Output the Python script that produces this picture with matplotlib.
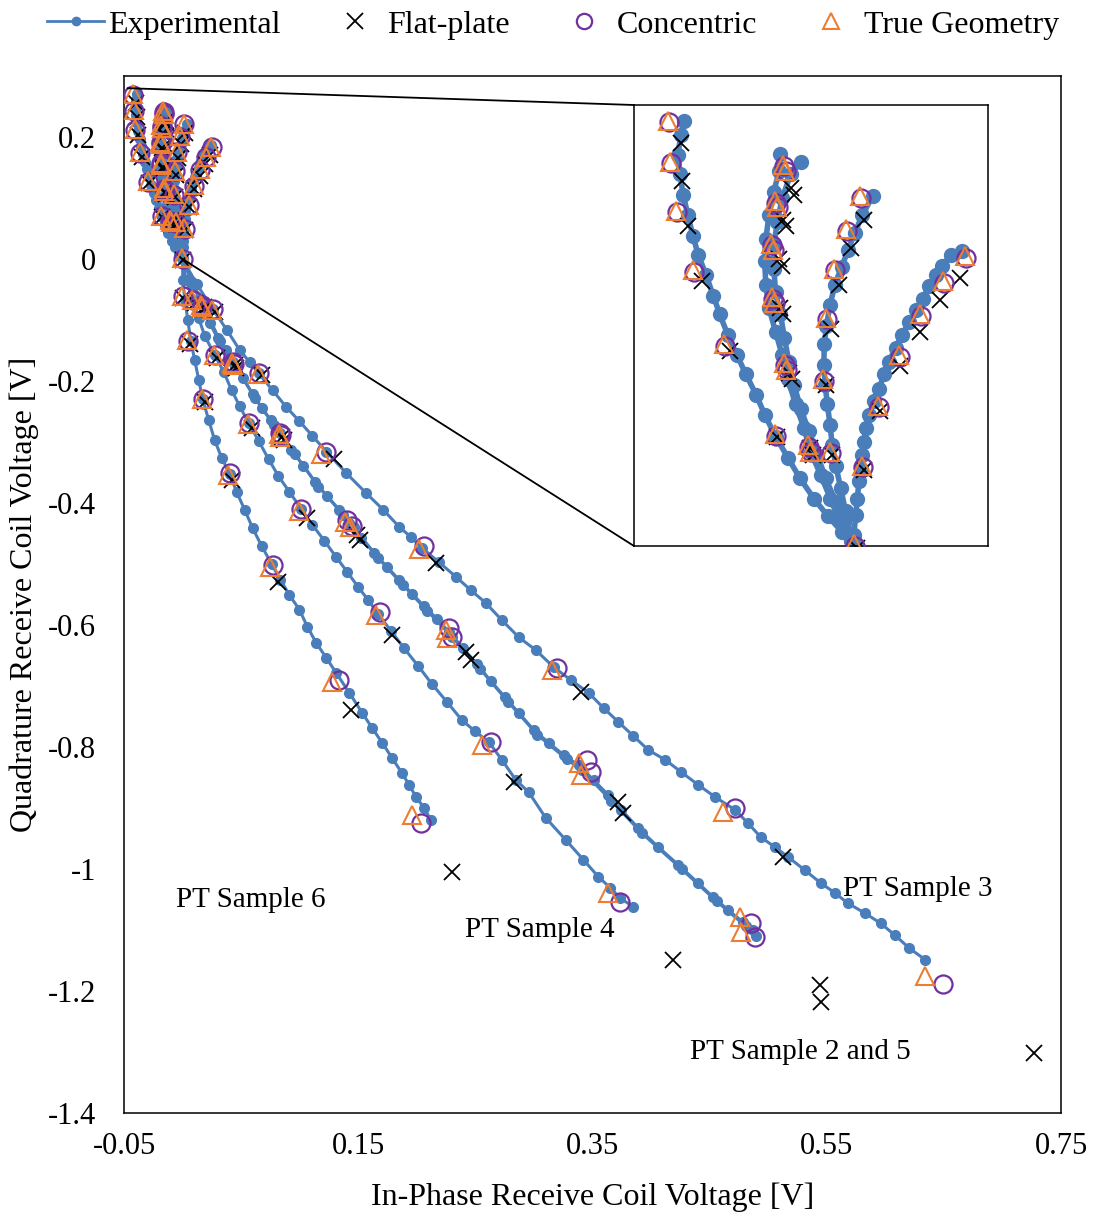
import numpy as np
import matplotlib

matplotlib.use("Agg")
import matplotlib.pyplot as plt
from matplotlib.patches import ConnectionPatch

plt.rcParams["font.family"] = ["Liberation Serif", "DejaVu Serif"]

BLUE = "#4A7EBB"
PURPLE = "#7030A0"
ORANGE = "#ED7D31"

# experimental traces, top of the upper branch -> origin -> end of the lower branch
s6_exp = [
    (-0.0387, 0.270), (-0.0394, 0.261), (-0.0401, 0.248), (-0.0396, 0.236), (-0.0389, 0.223),
    (-0.0378, 0.210), (-0.0367, 0.197), (-0.0355, 0.185), (-0.0337, 0.172), (-0.0321, 0.159),
    (-0.0306, 0.147), (-0.0288, 0.134), (-0.0267, 0.121), (-0.0247, 0.109), (-0.0224, 0.096),
    (-0.0204, 0.083), (-0.0179, 0.069), (-0.0152, 0.056), (-0.0125, 0.043), (-0.0093, 0.030),
    (-0.0062, 0.019), (-0.0030, 0.009), (0.0, 0.0),
    (0.0002, -0.034), (0.0019, -0.067), (0.0045, -0.100), (0.0070, -0.134), (0.0104, -0.166),
    (0.0138, -0.198), (0.0172, -0.230), (0.0223, -0.264), (0.0274, -0.297), (0.0334, -0.326),
    (0.0402, -0.352), (0.0462, -0.382), (0.0530, -0.411), (0.0598, -0.441), (0.0674, -0.470),
    (0.0760, -0.500), (0.0836, -0.526), (0.0913, -0.551), (0.0998, -0.575), (0.1066, -0.603),
    (0.1143, -0.630), (0.1228, -0.654), (0.1313, -0.679), (0.1423, -0.711), (0.1534, -0.744),
    (0.1619, -0.769), (0.1704, -0.793), (0.1789, -0.818), (0.1874, -0.843), (0.1934, -0.862),
    (0.1994, -0.882), (0.2062, -0.900), (0.2121, -0.920),
]

s4_exp = [
    (0.0039, 0.222), (0.0016, 0.210), (-0.0001, 0.199), (-0.0016, 0.188), (-0.0031, 0.177),
    (-0.0046, 0.166), (-0.0057, 0.153), (-0.0065, 0.140), (-0.0070, 0.128), (-0.0071, 0.115),
    (-0.0068, 0.102), (-0.0063, 0.090), (-0.0057, 0.077), (-0.0052, 0.064), (-0.0044, 0.051),
    (-0.0033, 0.037), (-0.0022, 0.022), (-0.0010, 0.007), (0.0, 0.0),
    (0.0028, -0.034), (0.0087, -0.067), (0.0138, -0.097), (0.0189, -0.126), (0.0274, -0.157),
    (0.0351, -0.185), (0.0419, -0.215), (0.0487, -0.241), (0.0564, -0.269), (0.0649, -0.298),
    (0.0734, -0.328), (0.0819, -0.356), (0.0913, -0.382), (0.1015, -0.410), (0.1109, -0.436),
    (0.1211, -0.462), (0.1313, -0.489), (0.1406, -0.513), (0.1500, -0.538), (0.1585, -0.559),
    (0.1670, -0.582), (0.1781, -0.610), (0.1891, -0.638), (0.2011, -0.667), (0.2130, -0.697),
    (0.2257, -0.726), (0.2385, -0.756), (0.2496, -0.774), (0.2615, -0.792), (0.2726, -0.821),
    (0.2845, -0.854), (0.2955, -0.874), (0.3100, -0.916), (0.3270, -0.952), (0.3423, -0.985),
    (0.3551, -1.013), (0.3653, -1.031), (0.3738, -1.048), (0.3849, -1.062),
]

s2_exp = [
    (-0.0169, 0.249), (-0.0172, 0.238), (-0.0184, 0.225), (-0.0195, 0.210), (-0.0202, 0.195),
    (-0.0205, 0.181), (-0.0202, 0.166), (-0.0195, 0.151), (-0.0180, 0.136), (-0.0165, 0.121),
    (-0.0152, 0.106), (-0.0135, 0.090), (-0.0116, 0.075), (-0.0101, 0.060), (-0.0078, 0.045),
    (-0.0056, 0.030), (-0.0033, 0.015), (-0.0010, 0.003), (0.0, 0.0),
    (0.0079, -0.038), (0.0164, -0.075), (0.0232, -0.105), (0.0300, -0.130), (0.0368, -0.149),
    (0.0428, -0.169), (0.0513, -0.195), (0.0598, -0.221), (0.0674, -0.244), (0.0751, -0.264),
    (0.0828, -0.285), (0.0930, -0.313), (0.1032, -0.339), (0.1134, -0.366), (0.1236, -0.389),
    (0.1338, -0.411), (0.1423, -0.433), (0.1526, -0.457), (0.1636, -0.482), (0.1747, -0.505),
    (0.1849, -0.526), (0.1960, -0.549), (0.2062, -0.569), (0.2172, -0.590), (0.2274, -0.611),
    (0.2394, -0.638), (0.2513, -0.664), (0.2632, -0.692), (0.2751, -0.718), (0.2870, -0.744),
    (0.2998, -0.772), (0.3126, -0.793), (0.3253, -0.813), (0.3381, -0.830), (0.3509, -0.854),
    (0.3636, -0.879), (0.3747, -0.903), (0.3891, -0.933), (0.4062, -0.964), (0.4232, -0.993),
    (0.4402, -1.023), (0.4530, -1.046), (0.4657, -1.067), (0.4785, -1.087), (0.4870, -1.100),
]

s5_exp = [
    (-0.0123, 0.244), (-0.0146, 0.236), (-0.0165, 0.221), (-0.0176, 0.206), (-0.0184, 0.191),
    (-0.0184, 0.176), (-0.0180, 0.161), (-0.0169, 0.147), (-0.0160, 0.132), (-0.0150, 0.117),
    (-0.0138, 0.102), (-0.0123, 0.087), (-0.0105, 0.073), (-0.0086, 0.058), (-0.0067, 0.043),
    (-0.0044, 0.028), (-0.0025, 0.015), (-0.0007, 0.003), (0.0, 0.0),
    (0.0095, -0.042), (0.0190, -0.080), (0.0320, -0.135), (0.0450, -0.175), (0.0620, -0.228),
    (0.0780, -0.272), (0.0960, -0.320), (0.1160, -0.373), (0.1370, -0.419), (0.1460, -0.440),
    (0.1670, -0.490), (0.1880, -0.534), (0.2090, -0.577), (0.2300, -0.619), (0.2540, -0.672),
    (0.2780, -0.726), (0.3030, -0.780), (0.3280, -0.820), (0.3410, -0.838), (0.3660, -0.888),
    (0.3920, -0.941), (0.4260, -1.000), (0.4560, -1.053), (0.4810, -1.094), (0.4900, -1.110),
]

s3_exp = [
    (0.0242, 0.187), (0.0216, 0.185), (0.0197, 0.178), (0.0182, 0.172), (0.0167, 0.165),
    (0.0152, 0.157), (0.0137, 0.150), (0.0121, 0.142), (0.0106, 0.134), (0.0091, 0.126),
    (0.0076, 0.117), (0.0065, 0.109), (0.0054, 0.100), (0.0042, 0.092), (0.0031, 0.083),
    (0.0024, 0.075), (0.0020, 0.066), (0.0016, 0.058), (0.0012, 0.049), (0.0008, 0.041),
    (0.0005, 0.030), (0.0001, 0.020), (-0.0003, 0.007), (0.0, 0.0),
    (0.0121, -0.041), (0.0257, -0.082), (0.0377, -0.116), (0.0487, -0.149), (0.0572, -0.169),
    (0.0649, -0.187), (0.0768, -0.215), (0.0887, -0.243), (0.0998, -0.266), (0.1109, -0.290),
    (0.1228, -0.316), (0.1398, -0.351), (0.1568, -0.384), (0.1713, -0.411), (0.1849, -0.439),
    (0.1951, -0.456), (0.2045, -0.474), (0.2189, -0.497), (0.2334, -0.521), (0.2462, -0.543),
    (0.2589, -0.564), (0.2726, -0.592), (0.2870, -0.620), (0.3015, -0.641), (0.3168, -0.669),
    (0.3313, -0.690), (0.3466, -0.711), (0.3594, -0.736), (0.3721, -0.759), (0.3849, -0.782),
    (0.3977, -0.805), (0.4121, -0.821), (0.4257, -0.841), (0.4402, -0.862), (0.4547, -0.882),
    (0.4717, -0.903), (0.4828, -0.925), (0.4938, -0.948), (0.5057, -0.964), (0.5168, -0.980),
    (0.5313, -1.002), (0.5449, -1.023), (0.5568, -1.039), (0.5679, -1.056), (0.5823, -1.072),
    (0.5960, -1.089), (0.6079, -1.108), (0.6206, -1.130), (0.6343, -1.149),
]

# model predictions at the discrete frequencies (samples 6, 4, 2, 5, 3)
concentric = [
    (-0.0421, 0.269), (-0.0416, 0.243), (-0.0403, 0.212), (-0.0364, 0.174), (-0.0294, 0.127), (-0.0179, 0.070),
    (0.0, 0.0),
    (0.0000, -0.061), (0.0045, -0.134), (0.0172, -0.230), (0.0402, -0.351), (0.0768, -0.502), (0.1338, -0.690), (0.2036, -0.925),
    (0.0013, 0.221), (-0.0019, 0.200), (-0.0046, 0.175), (-0.0064, 0.144), (-0.0071, 0.105), (-0.0055, 0.059),
    (0.0087, -0.067), (0.0274, -0.157), (0.0564, -0.269), (0.1015, -0.410), (0.1687, -0.579), (0.2632, -0.792), (0.3738, -1.054),
    (-0.0161, 0.241), (-0.0179, 0.218), (-0.0188, 0.191), (-0.0186, 0.157), (-0.0159, 0.115), (-0.0105, 0.063),
    (0.0164, -0.075), (0.0428, -0.169), (0.0828, -0.285), (0.1406, -0.428), (0.2274, -0.605), (0.3449, -0.821), (0.4853, -1.089),
    (-0.0156, 0.238), (-0.0174, 0.215), (-0.0183, 0.188), (-0.0181, 0.154), (-0.0154, 0.112), (-0.0100, 0.060),
    (0.0170, -0.078), (0.0435, -0.172), (0.0840, -0.289), (0.1449, -0.438), (0.2300, -0.620), (0.3483, -0.841), (0.4887, -1.111),
    (0.0250, 0.183), (0.0201, 0.167), (0.0149, 0.146), (0.0101, 0.120), (0.0054, 0.088), (0.0018, 0.050),
    (0.0257, -0.082), (0.0649, -0.187), (0.1228, -0.316), (0.2062, -0.470), (0.3194, -0.670), (0.4717, -0.900), (0.6496, -1.189),
]

true_geometry = [
    (-0.0423, 0.270), (-0.0418, 0.244), (-0.0405, 0.213), (-0.0367, 0.175), (-0.0297, 0.128), (-0.0182, 0.071),
    (-0.0003, 0.001),
    (-0.0003, -0.060), (0.0040, -0.133), (0.0168, -0.229), (0.0385, -0.354), (0.0743, -0.505), (0.1279, -0.693), (0.1960, -0.911),
    (0.0011, 0.222), (-0.0021, 0.201), (-0.0049, 0.176), (-0.0067, 0.145), (-0.0074, 0.106), (-0.0058, 0.060),
    (0.0083, -0.068), (0.0270, -0.158), (0.0556, -0.271), (0.0998, -0.413), (0.1653, -0.584), (0.2555, -0.797), (0.3636, -1.039),
    (-0.0163, 0.242), (-0.0181, 0.219), (-0.0190, 0.192), (-0.0188, 0.158), (-0.0161, 0.116), (-0.0107, 0.064),
    (0.0160, -0.076), (0.0422, -0.170), (0.0820, -0.287), (0.1390, -0.431), (0.2249, -0.608), (0.3381, -0.826), (0.4760, -1.079),
    (-0.0158, 0.238), (-0.0176, 0.215), (-0.0185, 0.188), (-0.0183, 0.154), (-0.0156, 0.112), (-0.0102, 0.060),
    (0.0166, -0.079), (0.0430, -0.173), (0.0832, -0.291), (0.1430, -0.440), (0.2257, -0.621), (0.3406, -0.846), (0.4768, -1.103),
    (0.0247, 0.184), (0.0198, 0.168), (0.0146, 0.147), (0.0098, 0.121), (0.0051, 0.089), (0.0015, 0.051),
    (0.0252, -0.083), (0.0640, -0.188), (0.1185, -0.320), (0.2019, -0.475), (0.3151, -0.674), (0.4615, -0.907), (0.6343, -1.175),
]

flat_plate = [
    (-0.0394, 0.256), (-0.0392, 0.232), (-0.0378, 0.203), (-0.0346, 0.168), (-0.0283, 0.124), (-0.0177, 0.069),
    (0.0005, -0.001),
    (0.0002, -0.064), (0.0062, -0.139), (0.0189, -0.234), (0.0419, -0.362), (0.0819, -0.530), (0.1440, -0.739), (0.2300, -1.005),
    (0.0020, 0.207), (-0.0010, 0.189), (-0.0037, 0.166), (-0.0055, 0.138), (-0.0066, 0.102), (-0.0053, 0.058),
    (0.0104, -0.072), (0.0291, -0.162), (0.0589, -0.277), (0.1066, -0.425), (0.1789, -0.616), (0.2828, -0.857), (0.4189, -1.149),
    (-0.0145, 0.227), (-0.0163, 0.207), (-0.0172, 0.182), (-0.0170, 0.151), (-0.0150, 0.110), (-0.0102, 0.062),
    (0.0181, -0.079), (0.0450, -0.174), (0.0853, -0.292), (0.1492, -0.452), (0.2419, -0.644), (0.3721, -0.890), (0.5440, -1.190),
    (-0.0138, 0.223), (-0.0156, 0.203), (-0.0165, 0.178), (-0.0163, 0.147), (-0.0143, 0.106), (-0.0095, 0.058),
    (0.0186, -0.082), (0.0458, -0.178), (0.0862, -0.296), (0.1517, -0.460), (0.2462, -0.657), (0.3764, -0.908), (0.5449, -1.218),
    (0.0237, 0.170), (0.0192, 0.156), (0.0146, 0.136), (0.0101, 0.114), (0.0056, 0.086), (0.0020, 0.048),
    (0.0274, -0.087), (0.0674, -0.190), (0.1296, -0.328), (0.2164, -0.498), (0.3406, -0.710), (0.5126, -0.980), (0.7270, -1.302),
]

x_ticks = [-0.05, 0.15, 0.35, 0.55, 0.75]
x_tick_labels = ["-0.05", "0.15", "0.35", "0.55", "0.75"]
y_ticks = [0.2, 0.0, -0.2, -0.4, -0.6, -0.8, -1.0, -1.2, -1.4]
y_tick_labels = ["0.2", "0", "-0.2", "-0.4", "-0.6", "-0.8", "-1", "-1.2", "-1.4"]

sample_labels = ["PT Sample 6", "PT Sample 4", "PT Sample 3", "PT Sample 2 and 5"]


def draw_series(ax, dot_ms, line_w):
    handles = []
    for i, trace in enumerate([s6_exp, s4_exp, s2_exp, s5_exp, s3_exp]):
        xy = np.array(trace)
        (h,) = ax.plot(xy[:, 0], xy[:, 1], color=BLUE, lw=line_w, marker="o",
                       ms=dot_ms, mfc=BLUE, mec=BLUE, zorder=2)
        if i == 0:
            handles.append(h)
    fp = np.array(flat_plate)
    (h,) = ax.plot(fp[:, 0], fp[:, 1], ls="none", marker="x", ms=11, mew=1.3,
                   color="black", zorder=3)
    handles.append(h)
    cc = np.array(concentric)
    (h,) = ax.plot(cc[:, 0], cc[:, 1], ls="none", marker="o", ms=13, mew=1.6,
                   mfc="none", mec=PURPLE, zorder=4)
    handles.append(h)
    tg = np.array(true_geometry)
    (h,) = ax.plot(tg[:, 0], tg[:, 1], ls="none", marker="^", ms=13, mew=1.5,
                   mfc="none", mec=ORANGE, zorder=5)
    handles.append(h)
    return handles


fig = plt.figure(figsize=(10.95, 12.13), dpi=100)
ax = fig.add_axes([124 / 1095, 1 - 1113 / 1213, 937 / 1095, 1037 / 1213])

handles = draw_series(ax, 7, 2.2)

ax.set_xlim(-0.05, 0.75)
ax.set_ylim(-1.4, 0.3)
ax.set_xticks(x_ticks)
ax.set_xticklabels(x_tick_labels)
ax.set_yticks(y_ticks)
ax.set_yticklabels(y_tick_labels)
ax.tick_params(axis="both", length=0, labelsize=22)
ax.tick_params(axis="y", pad=20)
ax.tick_params(axis="x", pad=14)
for sp in ax.spines.values():
    sp.set_linewidth(1.1)
    sp.set_color("black")

ax.set_xlabel("In-Phase Receive Coil Voltage [V]", fontsize=23, va="center")
ax.xaxis.set_label_coords(0.5, -0.081)
ax.set_ylabel("Quadrature Receive Coil Voltage [V]", fontsize=23, va="center")
ax.yaxis.set_label_coords(-0.106, 0.5)

ax.text(-0.0057, -1.051, sample_labels[0], fontsize=21, va="center")
ax.text(0.2411, -1.100, sample_labels[1], fontsize=21, va="center")
ax.text(0.5636, -1.033, sample_labels[2], fontsize=21, va="center")
ax.text(0.4334, -1.300, sample_labels[3], fontsize=21, va="center")

# zoomed view of the low-frequency region
axin = fig.add_axes([634 / 1095, 1 - 546 / 1213, 354 / 1095, 441 / 1213], zorder=5)
draw_series(axin, 10, 4.0)
axin.set_xlim(-0.05, 0.03)
axin.set_ylim(0.0, 0.28)
axin.set_xticks([])
axin.set_yticks([])
for sp in axin.spines.values():
    sp.set_linewidth(1.1)
    sp.set_color("black")

for xy_main, xy_in in [((-0.047, 0.28), (0, 1)), ((0.0, 0.0), (0, 0))]:
    con = ConnectionPatch(xyA=xy_main, coordsA=ax.transData, xyB=xy_in,
                          coordsB=axin.transAxes, color="black", lw=1.3, zorder=6)
    fig.add_artist(con)

leg = fig.legend(handles, ["Experimental", "Flat-plate", "Concentric", "True Geometry"],
                 loc="center", bbox_to_anchor=(553 / 1095, 1 - 25 / 1213), ncol=4,
                 frameon=False, fontsize=23, handlelength=1.8, handletextpad=0.12,
                 columnspacing=1.42, borderaxespad=0)
for lh in leg.legend_handles:
    lh.set_markersize(11)
leg.legend_handles[0].set_markersize(6)
leg.legend_handles[0].set_linewidth(2)

fig.savefig("out.png", dpi=100)
